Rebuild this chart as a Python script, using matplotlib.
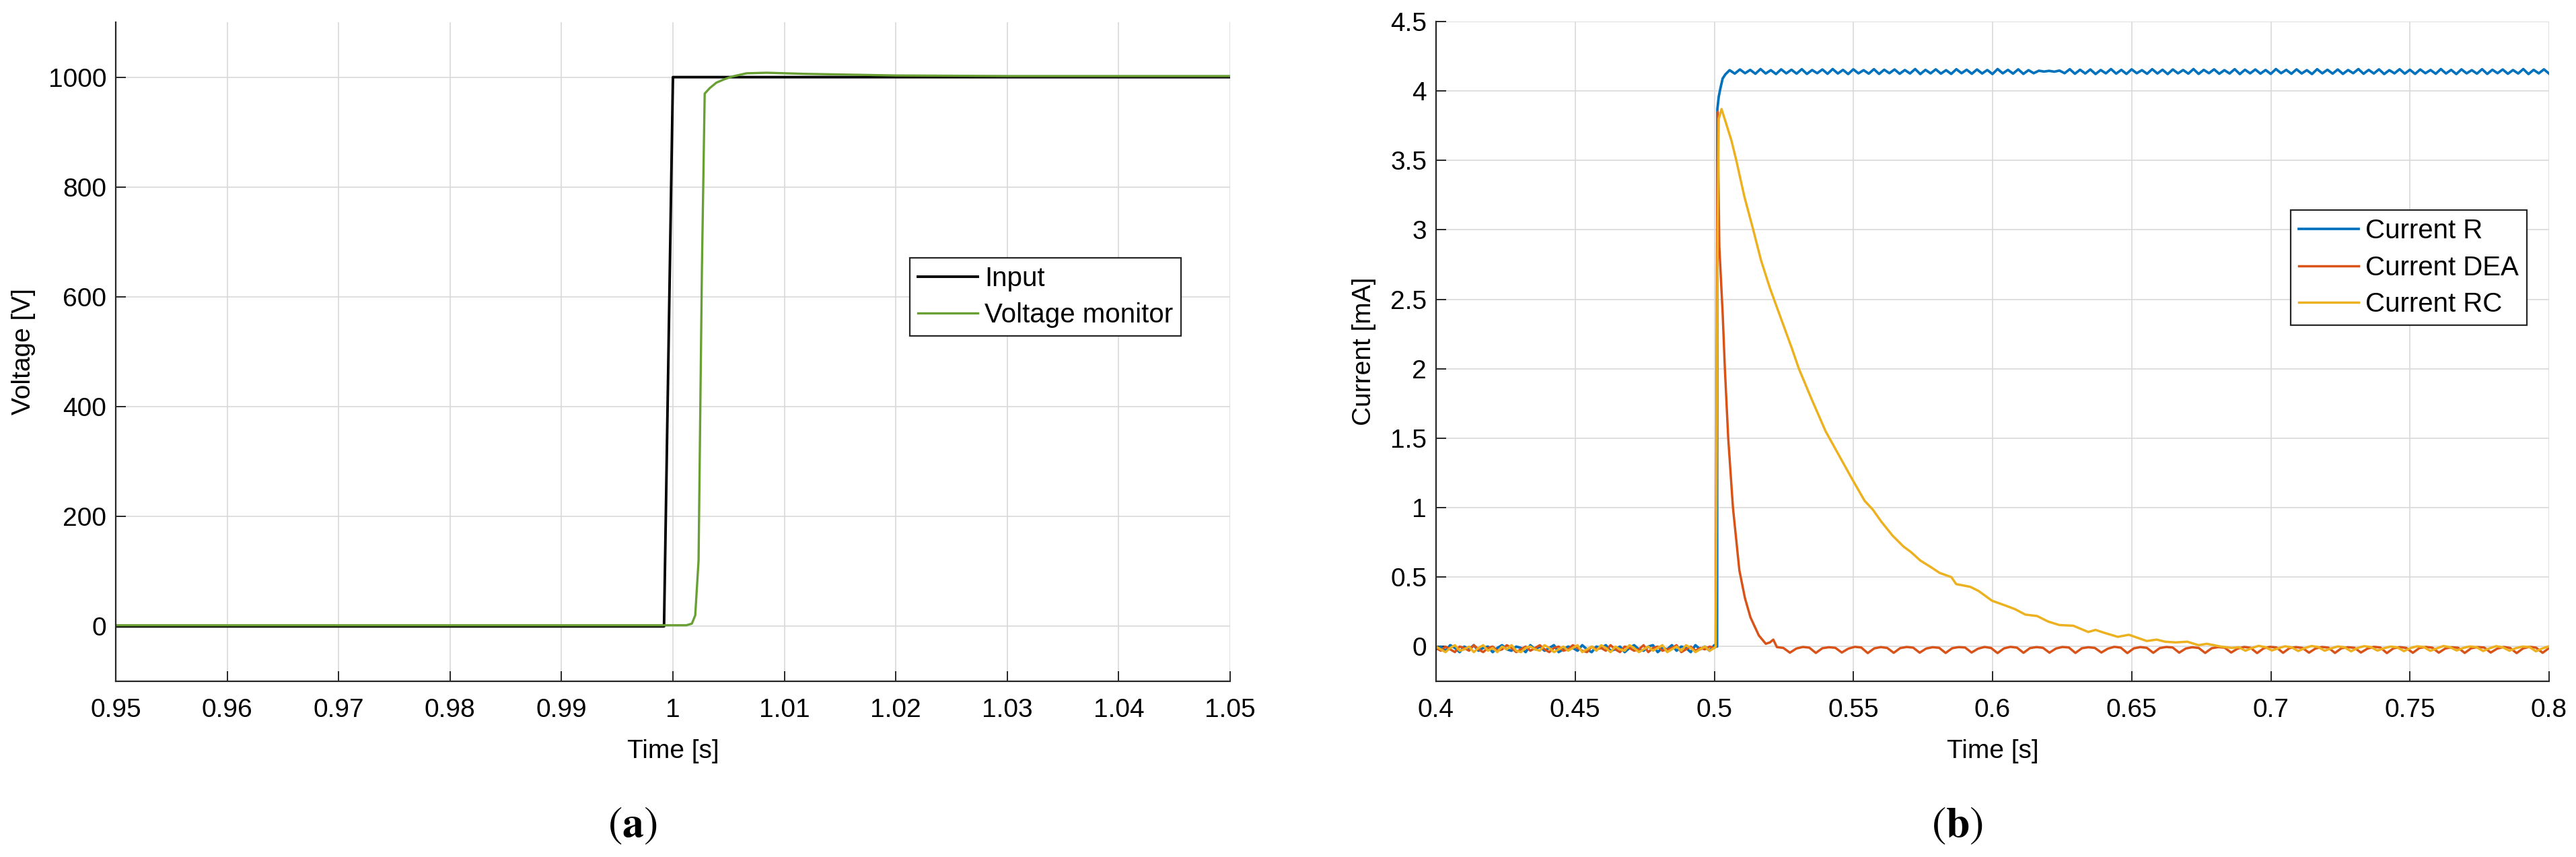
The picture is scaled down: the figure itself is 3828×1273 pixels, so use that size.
import numpy as np
import matplotlib
matplotlib.use("Agg")
import matplotlib.pyplot as plt

plt.rcParams["font.family"] = ["Liberation Sans", "DejaVu Sans"]
plt.rcParams["mathtext.fontset"] = "stix"

# ---------------- panel (a) data ----------------
input_t = [0.95, 0.9992, 1.0000, 1.05]
input_v = [0, 0, 1000, 1000]

monitor_t = [0.95, 1.0012, 1.0017, 1.0020, 1.0023, 1.0026, 1.00285, 1.0033, 1.0039,
             1.0046, 1.0053, 1.0066, 1.0084, 1.0118, 1.0146, 1.0200, 1.0300, 1.0400, 1.0500]
monitor_v = [2, 2, 5, 20, 120, 650, 970, 980, 990,
             996, 1001, 1007, 1008, 1006, 1005, 1003, 1002, 1002, 1002]

xticks_a = [0.95, 0.96, 0.97, 0.98, 0.99, 1.00, 1.01, 1.02, 1.03, 1.04, 1.05]
xtick_labels_a = ["0.95", "0.96", "0.97", "0.98", "0.99", "1", "1.01", "1.02", "1.03", "1.04", "1.05"]
yticks_a = [0, 200, 400, 600, 800, 1000]

# ---------------- panel (b) data ----------------
noise_span = [0.4, 0.5]
R_noise = [-0.02, 0.00, -0.03, 0.01, -0.01, -0.04, 0.00, -0.02, 0.01, -0.03,
           -0.01, 0.00, -0.04, -0.01, 0.01, -0.02, -0.03, 0.00, -0.01, -0.04,
           0.01, -0.02, 0.00, -0.03, -0.01, 0.01, -0.04, -0.02, 0.00, -0.01,
           -0.03, 0.01, -0.02, -0.04, 0.00, -0.01, 0.01, -0.03, -0.02, 0.00,
           -0.04, -0.01, 0.01, -0.02, -0.03, 0.00, 0.01, -0.04, -0.01, -0.02,
           0.01, -0.03, 0.00, -0.01, -0.04, 0.01, -0.02, 0.00, -0.03, 0.01]
DEA_noise = [-0.01, -0.03, 0.00, -0.02, -0.04, 0.00, -0.01, -0.03, 0.01, -0.02,
             -0.04, -0.01, 0.00, -0.03, -0.02, 0.01, -0.01, -0.04, -0.02, 0.00,
             -0.03, -0.01, 0.01, -0.02, -0.04, -0.01, 0.00, -0.03, -0.02, 0.01,
             -0.01, -0.03, -0.04, 0.00, -0.02, -0.01, -0.03, 0.01, -0.02, -0.04,
             0.00, -0.01, -0.03, -0.02, 0.01, -0.04, -0.01, 0.00, -0.03, -0.02,
             -0.01, 0.01, -0.04, -0.02, 0.00, -0.03, -0.01, -0.02, 0.00, -0.01]
RC_noise = [0.00, -0.02, -0.04, -0.01, 0.01, -0.03, -0.02, 0.00, -0.04, -0.01,
            0.01, -0.03, -0.01, -0.04, 0.00, -0.02, 0.01, -0.03, -0.04, -0.01,
            0.00, -0.02, -0.03, 0.01, -0.01, -0.04, -0.02, 0.00, -0.03, -0.01,
            0.01, -0.04, -0.02, 0.00, -0.03, 0.01, -0.01, -0.04, 0.00, -0.02,
            -0.03, 0.01, -0.01, -0.04, -0.02, 0.00, -0.03, -0.01, 0.01, -0.04,
            -0.02, 0.00, -0.03, 0.01, -0.01, -0.04, -0.02, 0.00, -0.03, -0.01]

R_step_t = [0.5005, 0.5010, 0.5011, 0.5016, 0.5022, 0.5030, 0.5040, 0.5050]
R_step = [0.00, 0.00, 3.87, 3.96, 4.02, 4.09, 4.12, 4.14]
R_ripple_span = [0.5055, 0.8]
R_ripple = [4.150, 4.125, 4.155, 4.128, 4.152, 4.124, 4.158, 4.126, 4.150, 4.122,
            4.156, 4.127, 4.153, 4.125, 4.157, 4.123, 4.151, 4.128, 4.155, 4.124,
            4.158, 4.126, 4.152, 4.122, 4.156, 4.127, 4.150, 4.125, 4.157, 4.123,
            4.153, 4.128, 4.155, 4.124, 4.151, 4.126, 4.158, 4.122, 4.152, 4.127,
            4.156, 4.125, 4.150, 4.123, 4.157, 4.128, 4.153, 4.124, 4.155, 4.126,
            4.151, 4.122, 4.158, 4.127, 4.152, 4.125, 4.156, 4.123, 4.150, 4.128,
            4.146, 4.140, 4.145, 4.139, 4.147, 4.128, 4.157, 4.124, 4.153, 4.126,
            4.155, 4.122, 4.151, 4.127, 4.158, 4.125, 4.152, 4.123, 4.156, 4.128,
            4.150, 4.124, 4.157, 4.126, 4.153, 4.122, 4.155, 4.127, 4.151, 4.125,
            4.158, 4.123, 4.152, 4.128, 4.156, 4.124, 4.150, 4.126, 4.157, 4.122,
            4.153, 4.127, 4.155, 4.125, 4.151, 4.123, 4.158, 4.128, 4.152, 4.124,
            4.156, 4.126, 4.150, 4.122, 4.157, 4.127, 4.153, 4.125, 4.155, 4.123,
            4.151, 4.128, 4.158, 4.124, 4.152, 4.126, 4.156, 4.122, 4.150, 4.127,
            4.157, 4.125, 4.153, 4.123, 4.155, 4.128, 4.151, 4.124, 4.158, 4.126,
            4.152, 4.122, 4.156, 4.127, 4.150, 4.125, 4.157, 4.123, 4.153, 4.128,
            4.155, 4.124, 4.151, 4.126, 4.158, 4.122, 4.152, 4.127, 4.156, 4.125]

DEA_decay_t = [0.5005, 0.5010, 0.5012, 0.5018, 0.5030, 0.5038, 0.5050, 0.5067,
               0.5090, 0.5110, 0.5130, 0.5160, 0.5185, 0.5200, 0.5212]
DEA_decay = [0.00, 3.00, 3.85, 2.88, 2.40, 2.00, 1.50, 1.00,
             0.55, 0.35, 0.21, 0.08, 0.02, 0.03, 0.05]
DEA_ripple_span = [0.5225, 0.8]
DEA_ripple = [-0.004, -0.010, -0.044, -0.014, -0.003, -0.008, -0.046, -0.012,
              -0.005, -0.009, -0.043, -0.015, -0.002, -0.007, -0.047, -0.013,
              -0.004, -0.010, -0.045, -0.011, -0.003, -0.008, -0.044, -0.014,
              -0.005, -0.009, -0.046, -0.012, -0.004, -0.007, -0.043, -0.015,
              -0.003, -0.010, -0.047, -0.013, -0.002, -0.008, -0.045, -0.011,
              -0.004, -0.009, -0.044, -0.014, -0.003, -0.007, -0.046, -0.012,
              -0.005, -0.010, -0.043, -0.015, -0.002, -0.008, -0.047, -0.013,
              -0.004, -0.009, -0.045, -0.011, -0.003, -0.007, -0.044, -0.014,
              -0.005, -0.010, -0.046, -0.012, -0.004, -0.008, -0.043, -0.015,
              -0.003, -0.009, -0.047, -0.013, -0.002, -0.007, -0.045, -0.011,
              -0.004, -0.010, -0.044, -0.014, -0.003, -0.008, -0.046, -0.012,
              -0.005, -0.009, -0.043, -0.015, -0.002, -0.007, -0.047, -0.013,
              -0.004, -0.010, -0.045, -0.011, -0.003, -0.008, -0.044, -0.014,
              -0.005, -0.009, -0.046, -0.012, -0.004, -0.007, -0.043, -0.015,
              -0.003, -0.010, -0.047, -0.013, -0.002, -0.008, -0.045, -0.011]

RC_decay_t = [0.5005, 0.5012, 0.5016, 0.5026, 0.5045, 0.5062, 0.5079, 0.5108, 0.5140,
              0.5168, 0.5200, 0.5240, 0.5280, 0.5304, 0.5350, 0.5400, 0.5450, 0.5497,
              0.5540, 0.5570, 0.5600, 0.5640, 0.5680, 0.5707, 0.5740, 0.5780, 0.5810,
              0.5852, 0.5869, 0.5920, 0.5950, 0.5998, 0.6040, 0.6080, 0.6118, 0.6160,
              0.6200, 0.6240, 0.6290, 0.6344, 0.6370, 0.6400, 0.6450, 0.6490, 0.6554,
              0.6590, 0.6620, 0.6658, 0.6700, 0.6740, 0.6770, 0.6820, 0.6860]
RC_decay = [0.00, 3.00, 3.80, 3.87, 3.75, 3.64, 3.50, 3.24, 3.00,
            2.78, 2.58, 2.36, 2.14, 2.00, 1.78, 1.55, 1.37, 1.20,
            1.05, 0.985, 0.90, 0.80, 0.72, 0.68, 0.62, 0.57, 0.53,
            0.50, 0.45, 0.43, 0.40, 0.33, 0.30, 0.27, 0.23, 0.22,
            0.18, 0.155, 0.150, 0.105, 0.120, 0.100, 0.070, 0.085, 0.040,
            0.050, 0.035, 0.030, 0.035, 0.010, 0.020, 0.000, -0.010]
RC_tail_span = [0.6885, 0.8]
RC_tail = [-0.005, -0.030, -0.010, 0.005, -0.004, -0.028, -0.012, 0.002,
           -0.006, -0.032, -0.011, 0.004, -0.003, -0.030, -0.013, 0.001,
           -0.005, -0.034, -0.010, 0.003, -0.004, -0.029, -0.012, 0.000,
           -0.006, -0.033, -0.011, 0.002, -0.003, -0.031, -0.013, 0.004,
           -0.005, -0.028, -0.010, 0.001, -0.004, -0.032, -0.012, 0.003,
           -0.006, -0.030, -0.011, 0.000, -0.003, -0.034, -0.013, 0.002]

xticks_b = [0.4, 0.45, 0.5, 0.55, 0.6, 0.65, 0.7, 0.75, 0.8]
xtick_labels_b = ["0.4", "0.45", "0.5", "0.55", "0.6", "0.65", "0.7", "0.75", "0.8"]
yticks_b = [0, 0.5, 1, 1.5, 2, 2.5, 3, 3.5, 4, 4.5]
ytick_labels_b = ["0", "0.5", "1", "1.5", "2", "2.5", "3", "3.5", "4", "4.5"]

# ---------------- assemble sampled series ----------------
t_noise = np.linspace(noise_span[0], noise_span[1], len(R_noise))
R_t = np.concatenate([t_noise, R_step_t, np.linspace(*R_ripple_span, len(R_ripple))])
R_y = np.concatenate([R_noise, R_step, R_ripple])
DEA_t = np.concatenate([t_noise, DEA_decay_t, np.linspace(*DEA_ripple_span, len(DEA_ripple))])
DEA_y = np.concatenate([DEA_noise, DEA_decay, DEA_ripple])
RC_t = np.concatenate([t_noise, RC_decay_t, np.linspace(*RC_tail_span, len(RC_tail))])
RC_y = np.concatenate([RC_noise, RC_decay, RC_tail])

# ---------------- figure ----------------
W, H = 3828, 1273
fig = plt.figure(figsize=(W / 100, H / 100), dpi=100, facecolor="white")

def px_axes(x0, x1, ytop, ybot):
    return fig.add_axes([x0 / W, 1 - ybot / H, (x1 - x0) / W, (ybot - ytop) / H])

ax1 = px_axes(172, 1828, 33, 1012)
ax2 = px_axes(2134, 3788, 32, 1012)

AXC = "#262626"
FS = 28
LFS = 29

def style(ax):
    for s in ["top", "right"]:
        ax.spines[s].set_visible(False)
    for s in ["left", "bottom"]:
        ax.spines[s].set_color(AXC)
        ax.spines[s].set_linewidth(1.6)
    ax.grid(True, color="#d9d9d9", linewidth=1.2)
    ax.set_axisbelow(True)
    ax.tick_params(direction="in", length=11, width=1.4, color=AXC,
                   labelsize=FS, labelcolor="black")
    ax.tick_params(axis="x", pad=18)
    ax.tick_params(axis="y", pad=10)

def legend(ax, loc, anchor):
    leg = ax.legend(loc=loc, bbox_to_anchor=anchor, borderaxespad=0,
                    fontsize=LFS, fancybox=False, framealpha=1, edgecolor=AXC,
                    handlelength=2.2, handletextpad=0.25, labelspacing=0.40,
                    borderpad=0.3)
    leg.get_frame().set_linewidth(1.6)
    return leg

# panel (a)
style(ax1)
ax1.plot(input_t, input_v, color="black", lw=2.8, label="Input")
ax1.plot(monitor_t, monitor_v, color="#68A034", lw=2.4, label="Voltage monitor")
ax1.set_xlim(0.95, 1.05)
ax1.set_ylim(-100, 1100)
ax1.set_xticks(xticks_a)
ax1.set_xticklabels(xtick_labels_a)
ax1.set_yticks(yticks_a)
ax1.set_xlabel("Time [s]", fontsize=FS)
ax1.set_ylabel("Voltage [V]", fontsize=FS)
ax1.xaxis.set_label_coords(0.5, -0.088)
ax1.yaxis.set_label_coords(-0.072, 0.5)
legend(ax1, "upper left", (0.7126, 0.6425))

# panel (b)
style(ax2)
ax2.plot(R_t, R_y, color="#0072BD", lw=2.7, label="Current R")
ax2.plot(DEA_t, DEA_y, color="#D95319", lw=2.5, label="Current DEA")
ax2.plot(RC_t, RC_y, color="#EDB120", lw=2.5, label="Current RC")
ax2.set_xlim(0.4, 0.8)
ax2.set_ylim(-0.25, 4.5)
ax2.set_xticks(xticks_b)
ax2.set_xticklabels(xtick_labels_b)
ax2.set_yticks(yticks_b)
ax2.set_yticklabels(ytick_labels_b)
ax2.set_xlabel("Time [s]", fontsize=FS)
ax2.set_ylabel("Current [mA]", fontsize=FS)
ax2.xaxis.set_label_coords(0.5, -0.088)
ax2.yaxis.set_label_coords(-0.054, 0.5)
legend(ax2, "lower left", (0.768, 0.540))

# captions
fig.text(940 / W, 1 - 1227 / H, r"$(\mathbf{a})$", fontsize=46, ha="center", va="center")
fig.text(2909 / W, 1 - 1227 / H, r"$(\mathbf{b})$", fontsize=46, ha="center", va="center")

fig.savefig("out.png", dpi=100, facecolor="white")
